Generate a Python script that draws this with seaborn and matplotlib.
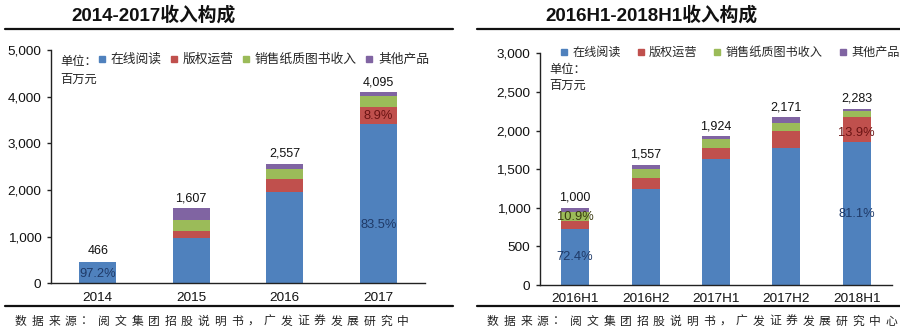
import numpy as np
import pandas as pd
import matplotlib
matplotlib.use("Agg")
import matplotlib.pyplot as plt
from matplotlib.lines import Line2D
from matplotlib.ticker import FuncFormatter
import seaborn as sns

# ---------------- data ----------------
years = ["2014", "2015", "2016", "2017"]
y_online = [453, 966, 1966, 3419]
y_copyright = [5, 156, 266, 364]
y_paper = [0, 236, 221, 236]
y_other = [8, 249, 104, 76]
y_totals = [466, 1607, 2557, 4095]

halves = ["2016H1", "2016H2", "2017H1", "2017H2", "2018H1"]
h_online = [724, 1243, 1628, 1779, 1852]
h_copyright = [109, 139, 151, 220, 317]
h_paper = [113, 117, 108, 96, 90]
h_other = [54, 58, 37, 76, 24]
h_totals = [1000, 1557, 1924, 2171, 2283]

series_names = ["在线阅读", "版权运营", "销售纸质图书收入", "其他产品"]
colors = ["#4F81BD", "#C0504D", "#9BBB59", "#8064A2"]

# percent annotations: (category index, y position, text, color)
left_pct = [(0, 190, "97.2%", "#1F3A68"), (3, 1250, "83.5%", "#1F3A68"),
            (3, 3580, "8.9%", "#6B1414")]
right_pct = [(0, 360, "72.4%", "#1F3A68"), (0, 885, "10.9%", "#3A3A10"),
             (4, 920, "81.1%", "#1F3A68"), (4, 1965, "13.9%", "#6B1414")]

titles = ["2014-2017收入构成", "2016H1-2018H1收入构成"]
source_left = "数据来源：阅文集团招股说明书，广发证券发展研究中"
source_right = "数据来源：阅文集团招股说明书，广发证券发展研究中心"

# ---------------- style ----------------
sns.set_theme(style="white")
plt.rcParams["font.family"] = ["Liberation Sans", "Noto Sans CJK SC", "DejaVu Sans"]

W, H = 900, 332
fig = plt.figure(figsize=(W / 100, H / 100), dpi=100)


def fx(px):
    return px / W


def fy(py):
    return 1 - py / H


def draw_panel(ax, cats, parts, totals, ymax, ystep, pct):
    online, copyright_, paper, other = parts
    cum1 = np.array(online)
    cum2 = cum1 + np.array(copyright_)
    cum3 = cum2 + np.array(paper)
    cum4 = cum3 + np.array(other)
    layers = [cum4, cum3, cum2, cum1]
    layer_colors = [colors[3], colors[2], colors[1], colors[0]]
    for vals, c in zip(layers, layer_colors):
        df = pd.DataFrame({"cat": cats, "val": vals})
        sns.barplot(data=df, x="cat", y="val", order=cats, color=c,
                    saturation=1, width=0.4, ax=ax, linewidth=0)
    ax.bar_label(ax.containers[0], labels=[f"{t:,}" for t in totals],
                 padding=3, fontsize=9, color="#111111")
    for i, yv, txt, col in pct:
        ax.text(i, yv, txt, ha="center", va="center", fontsize=9.3, color=col)
    ax.set_xlim(-0.5, len(cats) - 0.5)
    ax.set_ylim(0, ymax)
    ax.set_yticks(np.arange(0, ymax + 1, ystep))
    ax.yaxis.set_major_formatter(FuncFormatter(lambda v, p: f"{int(v):,}"))
    ax.set_xlabel("")
    ax.set_ylabel("")
    for s in ["top", "right"]:
        ax.spines[s].set_visible(False)
    for s in ["left", "bottom"]:
        ax.spines[s].set_color("#222222")
        ax.spines[s].set_linewidth(1)
    ax.tick_params(axis="y", which="both", left=True, length=3, width=1,
                   color="#222222", labelsize=9.7, labelcolor="#111111", pad=4)
    ax.tick_params(axis="x", bottom=False, length=0, labelsize=9.7,
                   labelcolor="#111111", pad=6)


axL = fig.add_axes([fx(51), fy(283.3), fx(425 - 51), (283.3 - 50) / H])
draw_panel(axL, years, [y_online, y_copyright, y_paper, y_other], y_totals,
           5000, 1000, left_pct)

axR = fig.add_axes([fx(540), fy(285), fx(892 - 540), (285 - 53.3) / H])
draw_panel(axR, halves, [h_online, h_copyright, h_paper, h_other], h_totals,
           3000, 500, right_pct)

# legends
handles = [Line2D([], [], marker="s", linestyle="", color=c, markersize=4)
           for c in colors]
for ax, (lx, ly), fs, cs in [(axL, (98, 60), 9.2, 0.65), (axR, (560, 53), 8.7, 1.35)]:
    ax.legend(handles, series_names, loc="center left",
              bbox_to_anchor=(fx(lx), fy(ly)), bbox_transform=fig.transFigure,
              ncol=4, frameon=False, fontsize=fs, handlelength=0.6,
              handletextpad=0.4, columnspacing=cs, borderpad=0, borderaxespad=0)

# unit labels
for x0, y0, y1 in [(60, 62, 80), (549, 70, 86)]:
    fig.text(fx(x0), fy(y0), "单位：", fontsize=8.8, va="center", color="#222222")
    fig.text(fx(x0), fy(y1), "百万元", fontsize=8.8, va="center", color="#222222")

# titles
fig.text(fx(154), fy(15), titles[0], fontsize=13.5, fontweight="bold",
         ha="center", va="center", color="#111111")
fig.text(fx(651), fy(15), titles[1], fontsize=13.5, fontweight="bold",
         ha="center", va="center", color="#111111")

# separator lines
for (x0, x1) in [(5, 453), (477, 900)]:
    for yy in (29, 305.5):
        fig.add_artist(Line2D([fx(x0), fx(x1)], [fy(yy), fy(yy)],
                              transform=fig.transFigure, color="#111111", lw=1.6))


# source notes (wide letter spacing like the original)
def spaced_text(x0, y0, s, step):
    for k, ch in enumerate(s):
        fig.text(fx(x0 + k * step), fy(y0), ch, fontsize=8.5, ha="left",
                 va="center", color="#222222")


spaced_text(15, 321.5, source_left, 16.6)
spaced_text(487, 321.5, source_right, 16.6)

fig.savefig("out.png", dpi=100)
